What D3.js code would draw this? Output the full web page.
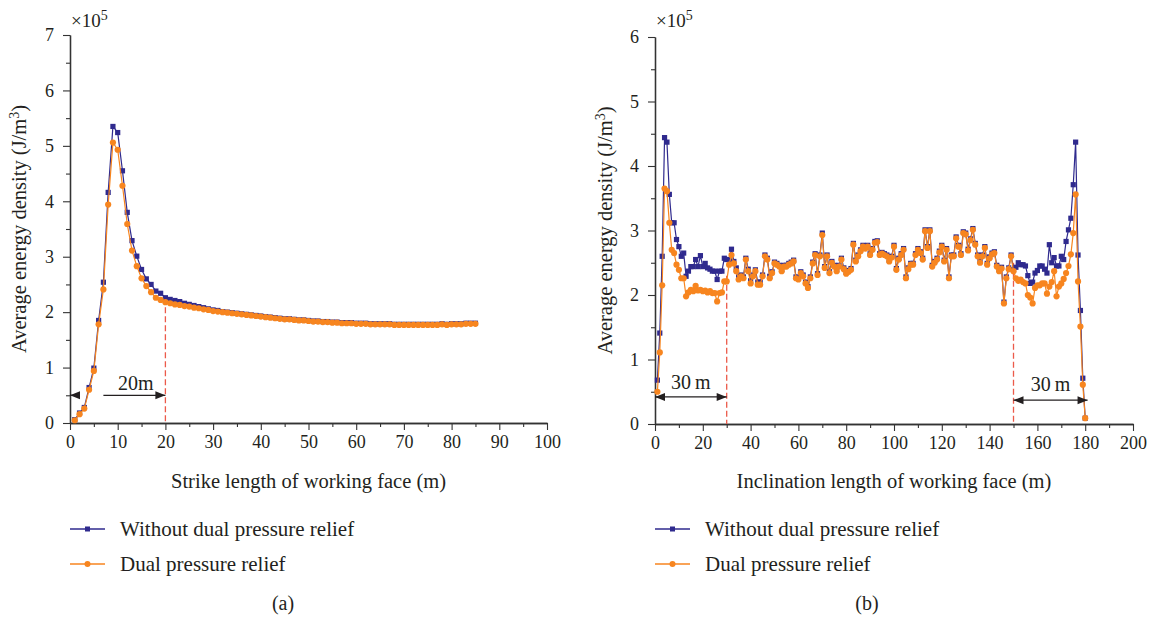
<!DOCTYPE html>
<html>
<head>
<meta charset="utf-8">
<script src="https://cdn.jsdelivr.net/npm/d3@7/dist/d3.min.js"></script>
<style>
  body { margin: 0; background: #fff; }
  text { font-family: "Liberation Serif", "Times New Roman", serif; fill: #231f20; }
</style>
</head>
<body>
<svg id="chart" width="1152" height="618"></svg>
<script>
// ---- data (values in 10^5 J/m^3) ----
var series_names = ['Without dual pressure relief', 'Dual pressure relief'];

// (a) strike direction, one point per metre from 1 m to 85 m
var strike_without = [
  0.06, 0.18, 0.28, 0.64, 0.99, 1.85, 2.54, 4.16, 5.35, 5.24,
  4.55, 3.80, 3.29, 3.01, 2.77, 2.60, 2.50, 2.38, 2.34, 2.26,
  2.23, 2.21, 2.19, 2.16, 2.14, 2.12, 2.10, 2.08, 2.06, 2.04,
  2.03, 2.01, 2.00, 1.99, 1.98, 1.97, 1.96, 1.95, 1.94, 1.93,
  1.92, 1.91, 1.90, 1.89, 1.88, 1.88, 1.87, 1.86, 1.86, 1.85,
  1.84, 1.84, 1.83, 1.83, 1.82, 1.82, 1.81, 1.81, 1.81, 1.80,
  1.80, 1.80, 1.79, 1.79, 1.79, 1.79, 1.79, 1.78, 1.78, 1.78,
  1.78, 1.78, 1.78, 1.78, 1.78, 1.78, 1.78, 1.79, 1.78, 1.79,
  1.79, 1.79, 1.80, 1.80, 1.80
];
var strike_dual = [
  0.05, 0.16, 0.26, 0.60, 0.94, 1.78, 2.41, 3.94, 5.06, 4.93,
  4.28, 3.59, 3.11, 2.83, 2.61, 2.47, 2.36, 2.26, 2.22, 2.18,
  2.16, 2.14, 2.13, 2.11, 2.10, 2.08, 2.07, 2.05, 2.04, 2.02,
  2.01, 2.00, 1.99, 1.98, 1.97, 1.96, 1.95, 1.94, 1.93, 1.92,
  1.91, 1.90, 1.89, 1.88, 1.87, 1.87, 1.86, 1.85, 1.85, 1.84,
  1.83, 1.83, 1.82, 1.82, 1.81, 1.81, 1.80, 1.80, 1.80, 1.79,
  1.79, 1.79, 1.78, 1.78, 1.78, 1.78, 1.78, 1.77, 1.77, 1.77,
  1.77, 1.77, 1.77, 1.77, 1.77, 1.77, 1.77, 1.78, 1.77, 1.78,
  1.78, 1.78, 1.79, 1.79, 1.79
];

// (b) inclination direction, one point per metre from 1 m to 180 m
var incl_without = [
  0.68, 1.41, 2.60, 4.44, 4.37, 3.56, 3.12, 3.12, 2.86, 2.75,
  2.60, 2.65, 2.29, 2.37, 2.44, 2.44, 2.55, 2.44, 2.61, 2.44,
  2.49, 2.42, 2.40, 2.37, 2.37, 2.24, 2.37, 2.37, 2.57, 2.55,
  2.55, 2.71, 2.52, 2.42, 2.28, 2.31, 2.28, 2.57, 2.40, 2.22,
  2.31, 2.39, 2.20, 2.20, 2.31, 2.62, 2.57, 2.29, 2.36, 2.51,
  2.49, 2.46, 2.39, 2.46, 2.46, 2.49, 2.51, 2.54, 2.28, 2.26,
  2.36, 2.31, 2.20, 2.13, 2.28, 2.51, 2.64, 2.33, 2.62, 2.96,
  2.44, 2.62, 2.36, 2.52, 2.46, 2.39, 2.46, 2.57, 2.42, 2.35,
  2.38, 2.41, 2.80, 2.54, 2.62, 2.70, 2.77, 2.74, 2.77, 2.64,
  2.72, 2.83, 2.84, 2.64, 2.66, 2.64, 2.62, 2.54, 2.60, 2.77,
  2.41, 2.57, 2.64, 2.72, 2.28, 2.42, 2.49, 2.49, 2.64, 2.72,
  2.67, 2.57, 3.01, 2.75, 3.01, 2.46, 2.52, 2.57, 2.68, 2.77,
  2.54, 2.72, 2.28, 2.62, 2.62, 2.90, 2.77, 2.64, 2.98, 2.96,
  2.71, 2.87, 3.03, 2.80, 2.62, 2.52, 2.62, 2.75, 2.49, 2.59,
  2.65, 2.67, 2.46, 2.39, 2.43, 1.89, 2.28, 2.42, 2.62, 2.39,
  2.43, 2.50, 2.47, 2.47, 2.45, 2.30, 2.18, 2.20, 2.34, 2.38,
  2.45, 2.45, 2.40, 2.34, 2.78, 2.50, 2.58, 2.45, 2.45, 2.60,
  2.55, 2.83, 3.01, 3.19, 3.71, 4.37, 2.62, 1.76, 0.71, 0.09
];
var incl_dual = [
  0.50, 1.11, 2.15, 3.65, 3.61, 3.12, 2.70, 2.65, 2.47, 2.39,
  2.26, 2.26, 1.98, 2.04, 2.08, 2.06, 2.14, 2.07, 2.08, 2.06,
  2.07, 2.04, 2.06, 2.03, 2.03, 1.90, 2.03, 2.04, 2.21, 2.21,
  2.47, 2.62, 2.49, 2.37, 2.24, 2.29, 2.26, 2.55, 2.37, 2.18,
  2.29, 2.37, 2.16, 2.16, 2.29, 2.60, 2.55, 2.26, 2.34, 2.49,
  2.47, 2.44, 2.37, 2.44, 2.44, 2.47, 2.49, 2.52, 2.26, 2.24,
  2.34, 2.29, 2.18, 2.11, 2.26, 2.49, 2.62, 2.31, 2.60, 2.93,
  2.42, 2.60, 2.34, 2.50, 2.44, 2.37, 2.44, 2.55, 2.40, 2.33,
  2.36, 2.39, 2.78, 2.52, 2.60, 2.68, 2.75, 2.72, 2.75, 2.62,
  2.70, 2.81, 2.82, 2.62, 2.64, 2.62, 2.60, 2.52, 2.58, 2.75,
  2.39, 2.55, 2.62, 2.70, 2.26, 2.40, 2.47, 2.47, 2.62, 2.70,
  2.65, 2.55, 2.99, 2.73, 2.99, 2.44, 2.50, 2.55, 2.66, 2.75,
  2.52, 2.70, 2.26, 2.60, 2.60, 2.88, 2.75, 2.62, 2.96, 2.94,
  2.69, 2.85, 3.01, 2.78, 2.60, 2.50, 2.60, 2.73, 2.47, 2.57,
  2.63, 2.65, 2.44, 2.37, 2.41, 1.87, 2.26, 2.40, 2.60, 2.37,
  2.26, 2.22, 2.24, 2.20, 2.18, 2.00, 1.96, 1.87, 2.11, 2.15,
  2.15, 2.18, 2.18, 2.02, 2.13, 2.20, 2.37, 1.98, 2.13, 2.18,
  2.25, 2.34, 2.45, 2.63, 2.96, 3.56, 2.21, 1.51, 0.61, 0.09
];

var strike_x_ticks = [0, 10, 20, 30, 40, 50, 60, 70, 80, 90, 100];
var strike_y_ticks = [0, 1, 2, 3, 4, 5, 6, 7];
var incl_x_ticks = [0, 20, 40, 60, 80, 100, 120, 140, 160, 180, 200];
var incl_y_ticks = [0, 1, 2, 3, 4, 5, 6];

// marked zones: [x position, value where the dashed line starts]
var strike_marks = [[20, 2.25]];
var incl_marks = [[30, 2.30], [150, 2.50]];

var colour_without = '#2f2a8e';
var colour_dual = '#f7851f';

var tick_font = 18;
var title_font = 20.5;

var svg = d3.select('#chart');

function toPoints(values) {
  return values.map(function (v, i) { return { x: i + 1, y: v }; });
}

function drawPanel(cfg) {
  var x = d3.scaleLinear().domain(cfg.x_domain).range(cfg.x_range);
  var y = d3.scaleLinear().domain(cfg.y_domain).range(cfg.y_range);
  var g = svg.append('g');

  // minor ticks
  var x_minor = [];
  for (var i = 0; i < cfg.x_ticks.length - 1; i++) {
    x_minor.push((cfg.x_ticks[i] + cfg.x_ticks[i + 1]) / 2);
  }
  var y_minor = [];
  for (var j = 0; j < cfg.y_ticks.length - 1; j++) {
    y_minor.push((cfg.y_ticks[j] + cfg.y_ticks[j + 1]) / 2);
  }

  g.append('g').attr('transform', 'translate(0,' + cfg.y_range[0] + ')')
    .call(d3.axisBottom(x).tickValues(x_minor).tickSize(4).tickSizeOuter(0).tickFormat(''));
  g.append('g').attr('transform', 'translate(' + cfg.x_range[0] + ',0)')
    .call(d3.axisLeft(y).tickValues(y_minor).tickSize(4).tickSizeOuter(0).tickFormat(''));

  var xa = g.append('g').attr('transform', 'translate(0,' + cfg.y_range[0] + ')')
    .call(d3.axisBottom(x).tickValues(cfg.x_ticks).tickSize(7).tickSizeOuter(0)
      .tickPadding(5).tickFormat(d3.format('d')));
  var ya = g.append('g').attr('transform', 'translate(' + cfg.x_range[0] + ',0)')
    .call(d3.axisLeft(y).tickValues(cfg.y_ticks).tickSize(7).tickSizeOuter(0)
      .tickPadding(9).tickFormat(d3.format('d')));

  g.selectAll('.domain').attr('stroke', '#333').attr('stroke-width', 1.3);
  g.selectAll('.tick line').attr('stroke', '#333').attr('stroke-width', 1.1);
  xa.selectAll('text').attr('font-size', tick_font).attr('font-family', null).attr('fill', '#231f20');
  ya.selectAll('text').attr('font-size', tick_font).attr('font-family', null).attr('fill', '#231f20');

  // exponent
  var ex = g.append('text').attr('x', cfg.x_range[0] + 1).attr('y', 27).attr('font-size', 19);
  ex.append('tspan').text('\u00d710');
  ex.append('tspan').attr('dy', -7).attr('font-size', 14).text('5');

  // axis titles
  g.append('text')
    .attr('x', (cfg.x_range[0] + cfg.x_range[1]) / 2 + cfg.title_shift)
    .attr('y', 488).attr('text-anchor', 'middle').attr('font-size', title_font)
    .text(cfg.x_title);

  var yt = g.append('text')
    .attr('transform', 'translate(' + cfg.y_title_x + ',' + ((cfg.y_range[0] + cfg.y_range[1]) / 2) + ') rotate(-90)')
    .attr('text-anchor', 'middle').attr('font-size', title_font);
  yt.append('tspan').text('Average energy density (J/m');
  yt.append('tspan').attr('dy', -7).attr('font-size', 14).text('3');
  yt.append('tspan').attr('dy', 7).text(')');

  // dashed zone lines
  g.selectAll('line.zone').data(cfg.marks).enter().append('line')
    .attr('class', 'zone')
    .attr('x1', function (d) { return x(d[0]); })
    .attr('x2', function (d) { return x(d[0]); })
    .attr('y1', function (d) { return y(d[1]); })
    .attr('y2', y(0))
    .attr('stroke', '#ec5a4a').attr('stroke-width', 1.3).attr('stroke-dasharray', '6,3');

  // series
  var line = d3.line().x(function (d) { return x(d.x); }).y(function (d) { return y(d.y); });
  var pw = toPoints(cfg.without);
  var pd = toPoints(cfg.dual);

  g.append('path').datum(pw).attr('d', line)
    .attr('fill', 'none').attr('stroke', colour_without).attr('stroke-width', 1.2);
  g.selectAll('rect.pt').data(pw).enter().append('rect')
    .attr('class', 'pt')
    .attr('x', function (d) { return x(d.x) - 2.6; })
    .attr('y', function (d) { return y(d.y) - 2.6; })
    .attr('width', 5.2).attr('height', 5.2)
    .attr('fill', colour_without);

  g.append('path').datum(pd).attr('d', line)
    .attr('fill', 'none').attr('stroke', colour_dual).attr('stroke-width', 1.2);
  g.selectAll('circle.pt').data(pd).enter().append('circle')
    .attr('class', 'pt')
    .attr('cx', function (d) { return x(d.x); })
    .attr('cy', function (d) { return y(d.y); })
    .attr('r', 3.1)
    .attr('fill', colour_dual);

  // legend
  var lg = g.append('g');
  var lx = cfg.x_range[0];
  [colour_without, colour_dual].forEach(function (c, k) {
    var ly = 529 + k * 35;
    lg.append('line').attr('x1', lx).attr('x2', lx + 35).attr('y1', ly).attr('y2', ly)
      .attr('stroke', c).attr('stroke-width', 1.3);
    if (k === 0) {
      lg.append('rect').attr('x', lx + 15).attr('y', ly - 2.5).attr('width', 5).attr('height', 5).attr('fill', c);
    } else {
      lg.append('circle').attr('cx', lx + 17.5).attr('cy', ly).attr('r', 3).attr('fill', c);
    }
    lg.append('text').attr('x', lx + cfg.legend_text_dx).attr('y', ly + 7).attr('font-size', 21)
      .text(series_names[k]);
  });

  g.append('text').attr('x', cfg.caption_x).attr('y', 610).attr('text-anchor', 'middle')
    .attr('font-size', 20).text(cfg.caption);

  return { x: x, y: y, g: g };
}

function arrowHead(g, px, py, dir) {
  // dir = 1 points right, -1 points left
  g.append('path')
    .attr('d', 'M' + px + ',' + py + 'L' + (px - dir * 10) + ',' + (py - 4) + 'L' + (px - dir * 10) + ',' + (py + 4) + 'Z')
    .attr('fill', '#231f20');
}

function span(g, x1, x2, yy, left_head, right_head) {
  g.append('line').attr('x1', x1).attr('x2', x2).attr('y1', yy).attr('y2', yy)
    .attr('stroke', '#231f20').attr('stroke-width', 1.2);
  if (left_head) arrowHead(g, x1, yy, -1);
  if (right_head) arrowHead(g, x2, yy, 1);
}

var panel_a = drawPanel({
  x_domain: [0, 100], x_range: [70, 547],
  y_domain: [0, 7], y_range: [423, 35],
  x_ticks: strike_x_ticks, y_ticks: strike_y_ticks,
  x_title: 'Strike length of working face (m)', title_shift: 0,
  y_title_x: 26, marks: strike_marks,
  without: strike_without, dual: strike_dual,
  legend_text_dx: 50, caption: '(a)', caption_x: 283
});

var panel_b = drawPanel({
  x_domain: [0, 200], x_range: [655, 1133],
  y_domain: [0, 6], y_range: [424, 37],
  x_ticks: incl_x_ticks, y_ticks: incl_y_ticks,
  x_title: 'Inclination length of working face (m)', title_shift: 0,
  y_title_x: 612, marks: incl_marks,
  without: incl_without, dual: incl_dual,
  legend_text_dx: 50, caption: '(b)', caption_x: 867
});

// (a) 20 m span
var ay = panel_a.y(0.5);
span(panel_a.g, panel_a.x(0), panel_a.x(2), ay, true, false);
span(panel_a.g, panel_a.x(7), panel_a.x(20), ay, false, true);
panel_a.g.append('text').attr('x', panel_a.x(13.8)).attr('y', ay - 5).attr('text-anchor', 'middle')
  .attr('font-size', 20).text('20m');

// (b) 30 m spans
var by1 = panel_b.y(0.42);
span(panel_b.g, panel_b.x(0), panel_b.x(30), by1, true, true);
panel_b.g.append('text').attr('x', panel_b.x(15)).attr('y', by1 - 8).attr('text-anchor', 'middle')
  .attr('font-size', 20).text('30\u2009m');
var by2 = panel_b.y(0.37);
span(panel_b.g, panel_b.x(150), panel_b.x(181), by2, true, true);
panel_b.g.append('text').attr('x', panel_b.x(165.5)).attr('y', by2 - 9).attr('text-anchor', 'middle')
  .attr('font-size', 20).text('30\u2009m');
</script>
</body>
</html>
